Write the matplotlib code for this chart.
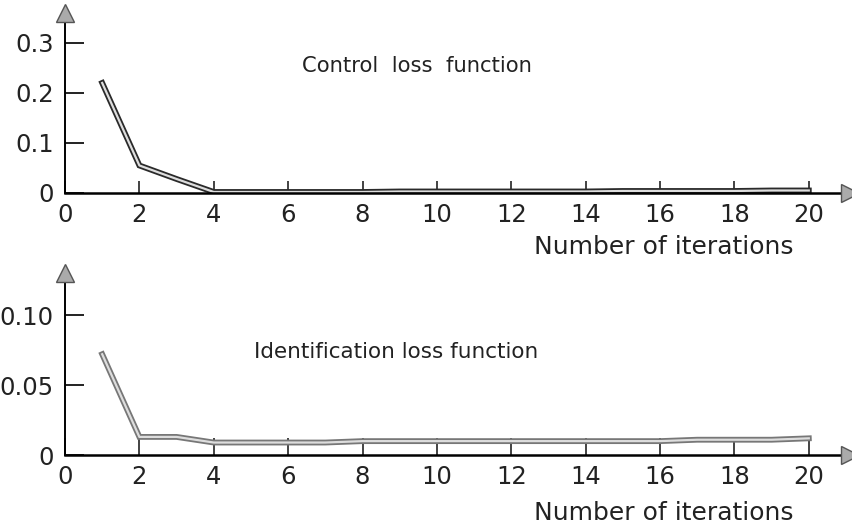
import matplotlib.pyplot as plt

iterations = list(range(1, 21))
control_loss = [0.22, 0.055, 0.028, 0.002, 0.002, 0.002, 0.002, 0.002, 0.003, 0.003,
                0.003, 0.003, 0.003, 0.003, 0.004, 0.004, 0.004, 0.004, 0.005, 0.005]
ident_loss = [0.072, 0.013, 0.013, 0.009, 0.009, 0.009, 0.009, 0.010, 0.010, 0.010,
              0.010, 0.010, 0.010, 0.010, 0.010, 0.010, 0.011, 0.011, 0.011, 0.012]

x_ticks = [0, 2, 4, 6, 8, 10, 12, 14, 16, 18, 20]
top_yticks = [0, 0.1, 0.2, 0.3]
top_ylabels = ["0", "0.1", "0.2", "0.3"]
bot_yticks = [0, 0.05, 0.10]
bot_ylabels = ["0", "0.05", "0.10"]

plt.rcParams["font.family"] = "DejaVu Sans"

fig = plt.figure(figsize=(8.52, 5.28), dpi=100)
ax1 = fig.add_axes([0.0763, 0.6345, 0.921, 0.341])
ax2 = fig.add_axes([0.0763, 0.138, 0.921, 0.345])

XMAX = 21.1
INK = "#222222"


def style_axis(ax, yticks, ylabels, ymax, xtick_len):
    ax.set_xlim(0, XMAX)
    ax.set_ylim(0, ymax)
    for s in ["top", "right"]:
        ax.spines[s].set_visible(False)
    ax.spines["left"].set_linewidth(1.4)
    ax.spines["bottom"].set_linewidth(1.8)
    ax.set_xticks(x_ticks)
    ax.set_yticks(yticks)
    ax.set_yticklabels(ylabels)
    ax.tick_params(axis="y", direction="in", length=14, width=1.4, pad=8,
                   labelsize=17.5, colors=INK)
    ax.tick_params(axis="x", direction="in", length=xtick_len, width=1.2, pad=7,
                   labelsize=17.5, colors=INK)
    # axis arrows
    ax.plot([0], [ymax], marker="^", markersize=13, color="#aaaaaa",
            markeredgecolor="#555555", clip_on=False, zorder=5)
    ax.plot([XMAX], [0], marker=">", markersize=13, color="#aaaaaa",
            markeredgecolor="#555555", clip_on=False, zorder=5)


style_axis(ax1, top_yticks, top_ylabels, 0.36, 9)
style_axis(ax2, bot_yticks, bot_ylabels, 0.13, 12)

ax1.plot(iterations, control_loss, color="#2a2a2a", lw=4.2, solid_joinstyle="miter")
ax1.plot(iterations, control_loss, color="#dddddd", lw=1.6)
ax2.plot(iterations, ident_loss, color="#777777", lw=4.2, solid_joinstyle="miter")
ax2.plot(iterations, ident_loss, color="#dddddd", lw=1.6)

fig.text(302 / 852, 1 - 66 / 528, "Control  loss  function", fontsize=15.2,
         va="center", color=INK)
fig.text(254 / 852, 1 - 352 / 528, "Identification loss function", fontsize=15.5,
         va="center", color=INK)
fig.text(534 / 852, 1 - 247 / 528, "Number of iterations", fontsize=18,
         va="center", color=INK)
fig.text(534 / 852, 1 - 513 / 528, "Number of iterations", fontsize=18,
         va="center", color=INK)

fig.savefig("out.png", dpi=100)
